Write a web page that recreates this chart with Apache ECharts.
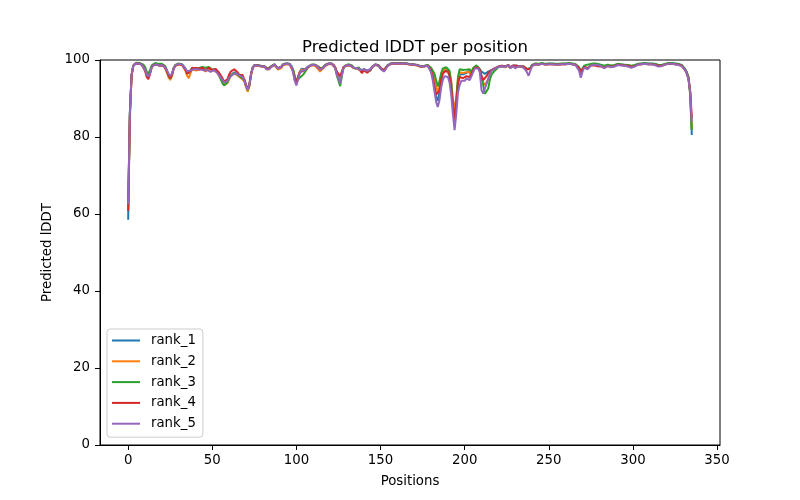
<!DOCTYPE html>
<html>
<head>
<meta charset="utf-8">
<script src="https://cdn.jsdelivr.net/npm/echarts@6/dist/echarts.min.js"></script>
<style>html,body{margin:0;padding:0;background:#fff}#c{width:800px;height:500px}</style>
</head>
<body>
<div id="c"></div>
<script>
const seriesNames = ['rank_1','rank_2','rank_3','rank_4','rank_5'];
const colors = ['#1f77b4','#ff7f0e','#2ca02c','#d62728','#9467bd'];
const xTicks = [0,50,100,150,200,250,300,350];
const yTicks = [0,20,40,60,80,100];

const rank_1 = [
58.5,86,96,98.5,99,99.2,99.2,99.1,98.9,98.6,
97.8,96.2,95.6,96.8,98.3,98.8,99,98.9,98.7,98.6,
98.8,98.7,98.2,97.2,96.2,95.4,96.3,97.8,98.6,98.9,
99,99,98.8,98.3,97.5,96.4,96.1,96.9,97.7,97.6,
97.4,97.8,97.5,97.7,97.9,97.5,97.1,97.6,97.9,97.3,
97.1,97.5,97.4,96.8,96.2,95.6,94.8,94.0,93.8,94.6,
95.4,96.0,96.4,96.8,96.9,96.3,95.9,95.6,96.0,95.0,
93.6,92.4,93.4,96.2,98.0,98.6,98.8,98.6,98.3,98.4,
98.6,98.3,97.8,97.6,97.9,98.3,98.6,98.8,98.5,97.9,
97.8,98.3,98.8,99.0,99.0,99.1,98.9,98.5,97.4,95.6,
94.2,95.4,97.0,97.7,97.8,97.6,97.9,98.3,98.6,98.7,
98.8,98.7,98.5,98.2,97.7,97.6,98.1,98.6,98.9,99.0,
99.1,99.0,98.8,98.2,96.8,95.6,94.6,96.6,98.1,98.5,
98.7,98.8,98.6,98.5,98.0,97.6,97.9,98.0,97.4,96.8,
97.6,97.8,97.2,96.8,97.6,98.2,98.6,98.8,98.7,98.5,
97.9,97.4,97.2,97.8,98.5,98.9,99.0,99.1,99.1,99.1,
99.1,99.1,99.1,99.0,99.1,99.1,99.0,98.9,98.8,98.8,
98.8,98.7,98.6,98.6,98.3,98.0,98.4,98.7,98.6,98.2,
97.4,96.0,93.5,90.5,89.4,91.5,95.0,96.8,97.4,97.6,
97.3,96.2,93.0,88.0,83.5,88.5,94.0,96.2,96.6,96.3,
96.0,96.6,97.2,96.8,96.0,97.6,98.2,98.4,98.1,97.8,
97.0,96.5,96.4,96.6,97.0,97.0,97.4,97.8,97.9,98.1,
98.3,98.2,98.5,98.6,98.3,98.5,98.7,98.1,98.4,98.6,
98.1,98.5,98.6,98.4,98.5,98.3,98.0,97.6,97.2,97.8,
98.6,98.9,99.0,99.0,98.9,99.0,99.1,99.0,98.9,99.0,
99.0,99.1,99.0,98.9,98.9,98.8,98.9,99.0,99.0,98.9,
99.0,99.0,99.1,99.1,99.0,98.9,98.8,98.7,97.8,96.2,
97.4,98.3,98.2,97.9,98.3,98.8,99.0,99.0,99.0,98.9,
98.8,98.6,98.4,98.2,98.4,98.6,98.6,98.4,98.3,98.5,
98.8,98.9,98.9,98.8,98.8,98.7,98.6,98.6,98.5,98.4,
98.3,98.5,98.8,98.9,99.0,99.0,99.1,99.1,99.1,99.0,
99.0,99.0,98.9,98.9,98.8,98.7,98.4,98.6,98.8,98.9,
99.0,99.1,99.1,99.1,99.0,99.0,98.9,98.9,98.8,98.6,
98.3,97.6,96.8,95.6,91.5,80.5
];

const rank_2 = [
62,85,95.8,98.4,99,99.2,99.1,99,98.8,98.5,
97.7,96.0,95.5,96.7,98.2,98.7,98.9,98.8,98.6,98.5,
98.7,98.6,98.0,96.8,95.5,94.8,95.8,97.6,98.5,98.8,
98.9,98.9,98.7,98.1,97.2,95.9,95.3,96.6,97.6,97.5,
97.3,97.7,97.4,97.6,97.8,97.4,97.0,97.5,97.8,97.2,
97.0,97.4,97.3,96.6,95.9,95.2,94.4,93.5,93.2,94.0,
95.0,95.8,96.2,96.5,96.6,96.0,95.6,95.3,95.6,94.5,
93.0,91.8,93.0,96.0,97.9,98.5,98.7,98.5,98.2,98.3,
98.5,98.2,97.7,97.5,97.8,98.2,98.5,98.6,98.2,97.5,
97.2,97.9,98.6,98.9,98.9,99.0,98.8,98.4,97.3,95.4,
94.0,95.2,96.8,97.5,97.6,97.5,97.8,98.2,98.5,98.6,
98.6,98.5,98.2,97.6,97.0,97.2,97.9,98.5,98.8,98.9,
99.0,98.9,98.7,98.0,96.6,95.4,94.5,96.4,98.0,98.4,
98.6,98.7,98.5,98.4,97.9,97.5,97.8,97.9,97.3,96.7,
97.5,97.7,97.1,96.7,97.5,98.1,98.5,98.7,98.6,98.4,
97.8,97.3,97.1,97.7,98.4,98.8,98.9,99.0,99.0,99.0,
99.0,99.0,99.0,98.9,99.0,99.0,98.9,98.8,98.7,98.7,
98.7,98.6,98.5,98.5,98.2,97.9,98.3,98.6,98.5,98.3,
97.8,97.0,95.5,93.0,91.8,93.0,95.8,97.2,97.6,97.8,
97.6,96.8,94.5,90.0,86.5,90.5,95.0,96.8,97.0,96.6,
96.3,96.8,97.3,96.9,96.2,97.7,98.2,98.4,98.1,97.5,
95.5,94.2,93.5,93.8,95.0,96.4,97.2,97.6,97.8,98.0,
98.2,98.1,98.3,98.4,98.1,98.3,98.5,97.9,98.2,98.4,
97.9,98.3,98.4,98.2,98.3,98.1,97.8,97.5,97.1,97.7,
98.5,98.8,98.9,98.9,98.8,98.9,99.0,98.9,98.8,98.9,
98.9,99.0,98.9,98.8,98.8,98.7,98.8,98.9,98.9,98.8,
98.9,98.9,99.0,99.0,98.9,98.8,98.7,98.6,97.9,96.8,
97.6,98.2,98.1,97.8,98.2,98.7,98.9,98.9,98.9,98.8,
98.7,98.5,98.3,98.1,98.3,98.5,98.5,98.3,98.2,98.4,
98.7,98.8,98.8,98.7,98.7,98.6,98.5,98.5,98.4,98.3,
98.2,98.4,98.7,98.8,98.9,98.9,99.0,99.0,99.0,98.9,
98.9,98.9,98.8,98.8,98.7,98.6,98.3,98.5,98.7,98.8,
98.9,99.0,99.0,99.0,98.9,98.9,98.8,98.8,98.7,98.5,
98.2,97.5,96.6,95.5,92.0,82.0
];

const rank_3 = [
62,86.5,96.2,98.6,99.1,99.3,99.3,99.2,99.0,98.8,
98.2,97.0,96.4,97.4,98.6,99.0,99.2,99.2,99.0,98.9,
99.0,98.9,98.4,97.4,96.0,95.2,96.2,97.9,98.7,99.0,
99.1,99.1,98.9,98.5,97.8,96.8,96.3,97.2,98.0,97.9,
97.8,98.1,97.9,98.0,98.2,98.3,98.0,98.1,98.2,97.7,
97.5,97.8,97.6,96.9,96.0,95.0,94.0,93.4,93.5,94.2,
95.2,96.0,96.3,96.6,96.7,96.2,95.8,95.5,95.9,94.8,
93.4,92.2,93.3,96.3,98.1,98.7,98.9,98.7,98.4,98.5,
98.7,98.4,97.9,97.7,98.0,98.4,98.7,98.9,98.6,97.8,
97.7,98.2,98.9,99.1,99.1,99.2,99.0,98.6,97.6,95.8,
94.4,94.8,95.4,95.7,96.2,96.8,97.5,98.2,98.6,98.8,
98.9,98.8,98.6,98.3,97.8,97.7,98.2,98.7,99.0,99.1,
99.2,99.1,98.9,98.0,96.0,94.6,93.2,95.8,97.9,98.5,
98.8,98.9,98.7,98.6,98.1,97.7,98.0,98.1,97.5,96.9,
97.4,97.5,96.9,96.6,97.3,98.2,98.7,98.9,98.8,98.6,
98.0,97.5,97.3,97.9,98.6,99.0,99.1,99.2,99.2,99.2,
99.2,99.2,99.2,99.1,99.2,99.2,99.1,99.0,98.9,98.9,
98.9,98.8,98.7,98.7,98.4,98.1,98.5,98.8,98.7,98.5,
98.0,97.5,96.5,94.8,93.1,94.5,96.6,97.8,98.0,98.1,
97.9,97.2,94.0,88.5,83.0,89.0,95.5,97.6,97.8,97.4,
97.0,97.5,97.9,97.6,96.8,97.9,98.4,98.6,98.2,97.6,
95.8,93.5,91.2,91.1,92.6,95.0,96.2,96.7,97.3,97.8,
98.1,98.1,98.4,98.5,98.2,98.4,98.6,98.0,98.3,98.5,
98.0,98.4,98.6,98.4,98.5,98.3,98.1,97.7,97.4,97.9,
98.7,99.0,99.1,99.1,99.0,99.1,99.2,99.1,99.0,99.1,
99.1,99.2,99.1,99.0,99.0,98.9,99.0,99.1,99.1,99.0,
99.1,99.1,99.2,99.2,99.1,99.0,98.9,98.8,98.1,97.2,
97.8,98.5,98.6,98.8,98.9,99.0,99.1,99.1,99.1,99.0,
99.0,98.8,98.6,98.5,98.7,98.8,98.8,98.6,98.5,98.7,
98.9,99.0,99.0,98.9,98.9,98.8,98.7,98.7,98.6,98.5,
98.5,98.7,98.9,99.0,99.1,99.1,99.2,99.2,99.2,99.1,
99.1,99.1,99.0,99.0,98.9,98.8,98.6,98.7,98.9,99.0,
99.1,99.2,99.2,99.2,99.1,99.1,99.0,99.0,98.9,98.7,
98.4,97.7,96.9,95.5,91.0,81.8
];

const rank_4 = [
60.8,85.5,95.9,98.4,99.0,99.2,99.1,99.0,98.8,98.3,
97.2,95.6,95.0,96.4,98.1,98.7,98.9,98.8,98.6,98.5,
98.7,98.6,98.1,97.0,96.0,95.3,96.1,97.7,98.5,98.8,
98.9,98.9,98.7,98.2,97.5,96.5,96.2,97.1,97.9,98.0,
97.9,98.2,97.8,97.9,98.0,97.6,97.3,97.8,98.0,97.5,
97.4,97.8,97.7,97.2,96.7,96.2,95.3,94.4,94.2,95.0,
96.2,97.0,97.5,97.6,97.4,96.8,96.2,95.8,96.1,95.0,
93.5,92.5,93.6,96.3,98.0,98.6,98.8,98.6,98.3,98.4,
98.6,98.3,97.8,97.6,97.9,98.3,98.6,98.8,98.5,97.9,
97.7,98.2,98.8,99.0,99.0,99.1,98.9,98.4,97.0,94.8,
94.0,95.8,96.8,97.0,97.2,97.3,97.7,98.2,98.5,98.7,
98.8,98.7,98.5,98.2,97.6,97.5,98.0,98.5,98.9,99.0,
99.1,99.0,98.8,98.1,97.0,96.6,95.8,97.0,98.2,98.5,
98.7,98.8,98.6,98.5,98.0,97.6,97.9,98.0,97.2,96.6,
97.4,97.5,96.7,96.5,97.4,98.2,98.6,98.8,98.7,98.5,
97.9,97.5,97.4,97.9,98.5,98.9,99.0,99.1,99.1,99.1,
99.1,99.1,99.1,99.0,99.1,99.1,99.0,98.9,98.8,98.8,
98.8,98.7,98.6,98.6,98.3,98.0,98.4,98.7,98.6,98.2,
97.2,95.8,93.2,91.0,90.5,92.0,94.8,96.4,97.0,97.2,
97.0,95.8,92.6,88.2,84.8,88.8,93.8,95.6,95.8,95.3,
95.2,95.8,96.2,95.6,95.2,97.2,98.0,98.3,98.0,97.4,
95.8,94.8,95.0,95.8,96.6,97.0,97.4,97.8,97.9,98.1,
98.3,98.2,98.5,98.6,98.3,98.5,98.7,98.1,98.4,98.6,
98.1,98.5,98.6,98.4,98.5,98.3,98.0,97.6,97.1,97.7,
98.5,98.8,98.9,98.9,98.8,98.9,99.0,98.9,98.8,98.9,
98.9,99.0,98.9,98.8,98.8,98.7,98.8,98.9,98.9,98.8,
98.9,98.9,99.0,99.0,98.9,98.8,98.7,98.6,97.9,96.9,
97.6,98.2,98.1,97.8,98.2,98.6,98.7,98.6,98.5,98.4,
98.4,98.3,98.1,98.0,98.2,98.4,98.5,98.3,98.2,98.4,
98.7,98.8,98.8,98.7,98.7,98.6,98.5,98.5,98.4,98.3,
98.2,98.4,98.7,98.8,98.9,98.9,99.0,99.0,99.0,98.9,
98.9,98.9,98.8,98.8,98.7,98.6,98.3,98.5,98.7,98.8,
98.9,99.0,99.0,99.0,98.9,98.9,98.8,98.8,98.7,98.5,
98.2,97.4,96.5,95.2,92.0,85.0
];

const rank_5 = [
62.5,86,96,98.4,99,99.2,99.1,99.0,98.8,98.4,
97.5,96.2,95.6,96.6,98.2,98.7,98.9,98.8,98.6,98.5,
98.7,98.6,98.1,97.3,96.5,95.8,96.5,97.8,98.6,98.9,
99.0,99.0,98.8,98.4,97.8,97.0,96.7,97.3,97.8,97.6,
97.4,97.6,97.3,97.5,97.7,97.3,97.0,97.4,97.6,96.9,
97.1,97.4,97.2,96.6,96.0,95.4,94.8,94.2,94.0,94.6,
95.4,95.9,96.2,96.5,96.6,96.4,96.0,95.5,95.6,94.6,
93.2,92.3,93.4,96.2,98.0,98.6,98.8,98.6,98.3,98.4,
98.6,98.3,97.6,97.3,97.6,98.2,98.6,98.8,98.5,97.8,
97.6,98.2,98.8,99.0,99.0,99.1,98.9,98.3,96.8,94.6,
93.4,95.0,96.6,97.2,97.4,97.4,97.8,98.3,98.6,98.7,
98.8,98.7,98.5,98.1,97.4,97.3,98.0,98.6,98.9,99.0,
99.1,99.0,98.8,98.0,96.2,95.2,93.9,96.2,98.0,98.5,
98.7,98.8,98.6,98.5,98.0,97.6,97.9,98.0,97.4,96.9,
97.6,97.8,97.2,96.9,97.6,98.2,98.6,98.8,98.7,98.4,
97.7,97.2,97.0,97.6,98.4,98.8,99.0,99.1,99.1,99.1,
99.1,99.1,99.1,99.0,99.1,99.1,99.0,98.9,98.8,98.8,
98.8,98.7,98.6,98.6,98.3,98.0,98.3,98.6,98.5,98.0,
96.8,94.8,92.0,89.2,87.8,89.5,92.8,94.8,95.8,96.0,
95.6,94.2,91.0,86.0,81.8,86.0,91.5,93.5,94.6,94.8,
94.6,95.2,95.6,94.8,94.5,96.8,97.8,98.2,97.8,96.8,
92.2,91.3,92.6,93.8,95.2,96.4,97.2,97.6,97.8,98.0,
98.2,98.1,98.4,98.5,98.2,98.4,98.6,97.9,98.2,98.4,
97.8,98.2,98.4,98.2,98.3,98.0,97.5,96.8,95.9,97.2,
98.4,98.8,98.9,98.9,98.8,98.9,99.0,98.9,98.8,98.9,
98.9,99.0,98.9,98.8,98.8,98.7,98.8,98.9,98.9,98.8,
98.9,98.9,99.0,99.0,98.9,98.8,98.6,98.4,97.2,95.4,
96.9,98.0,97.9,97.6,98.1,98.6,98.8,98.8,98.8,98.7,
98.6,98.4,98.1,97.9,98.2,98.4,98.3,98.1,98.0,98.3,
98.6,98.7,98.7,98.6,98.6,98.5,98.4,98.3,98.2,98.0,
97.9,98.3,98.6,98.8,98.9,98.9,99.0,99.0,99.0,98.9,
98.9,98.9,98.8,98.7,98.5,98.3,98.1,98.4,98.7,98.8,
98.9,99.0,99.0,99.0,98.9,98.9,98.8,98.7,98.6,98.4,
98.1,97.4,96.4,95.0,91.8,84.0
];

const allSeries = [rank_1, rank_2, rank_3, rank_4, rank_5];
const FONT = 'DejaVu Sans';
const chart = echarts.init(document.getElementById('c'), null, {renderer: 'canvas'});
const n = rank_1.length;
const pad = (n - 1) * 0.05;

chart.setOption({
  animation: false,
  backgroundColor: '#ffffff',
  color: colors,
  title: {
    text: 'Predicted lDDT per position',
    left: 410, top: 34, textAlign: 'center',
    textStyle: {fontFamily: FONT, fontSize: 16.5, fontWeight: 'normal', color: '#000'}
  },
  grid: {left: 100, right: 80, top: 60, bottom: 55, show: true, borderColor: '#000', borderWidth: 1, containLabel: false},
  legend: {
    orient: 'vertical', left: 107, top: 329,
    data: seriesNames,
    icon: 'rect', itemWidth: 28, itemHeight: 2, itemGap: 7.8,
    textStyle: {fontFamily: FONT, fontSize: 13.3, color: '#000', padding: [0, 0, 0, 6]},
    backgroundColor: 'rgba(255,255,255,0.8)',
    borderColor: '#cccccc', borderWidth: 1, borderRadius: 3,
    padding: [5, 7, 7, 5]
  },
  xAxis: {
    type: 'value', min: -pad, max: (n - 1) + pad,
    name: 'Positions', nameLocation: 'middle', nameGap: 30,
    nameTextStyle: {fontFamily: FONT, fontSize: 13.3, color: '#000'},
    axisLine: {show: true, onZero: false, lineStyle: {color: '#000', width: 1}},
    axisTick: {show: true, length: 5, lineStyle: {color: '#000'}, customValues: xTicks},
    axisLabel: {fontFamily: FONT, fontSize: 13.3, color: '#000', margin: 9, customValues: xTicks},
    splitLine: {show: false}
  },
  yAxis: {
    type: 'value', min: 0, max: 100, interval: 20,
    name: 'Predicted lDDT', nameLocation: 'middle', nameGap: 41,
    nameTextStyle: {fontFamily: FONT, fontSize: 13.3, color: '#000'},
    axisLine: {show: true, onZero: false, lineStyle: {color: '#000', width: 1}},
    axisTick: {show: true, length: 5, lineStyle: {color: '#000'}, customValues: yTicks},
    axisLabel: {fontFamily: FONT, fontSize: 13.3, color: '#000', margin: 10, customValues: yTicks},
    splitLine: {show: false}
  },
  series: allSeries.map((arr, k) => ({
    name: seriesNames[k],
    type: 'line',
    data: arr.map((v, i) => [i, v]),
    showSymbol: false, symbol: 'none',
    lineStyle: {width: 2, color: colors[k]},
    itemStyle: {color: colors[k]},
    z: 2 + k
  }))
});
</script>
</body>
</html>
